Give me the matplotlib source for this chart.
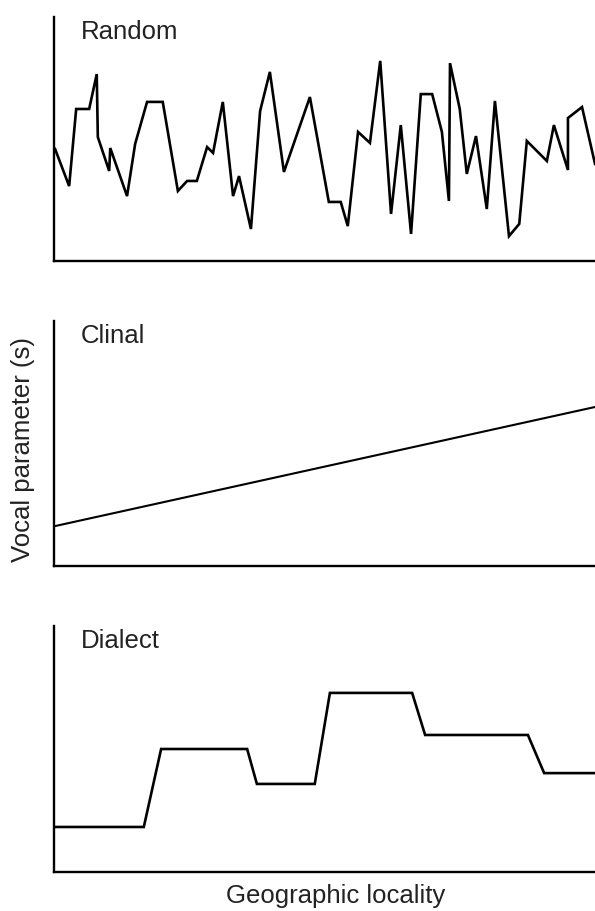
import matplotlib.pyplot as plt

plt.rcParams['font.family'] = ['Liberation Sans', 'DejaVu Sans']

# locality (0-100) and vocal parameter (arbitrary 0-10)
random_x = [0.2, 2.8, 4.1, 6.5, 7.9, 8.1, 10.2, 10.4, 13.5, 15.0, 17.2, 20.1, 22.9,
            24.6, 26.4, 28.3, 29.4, 31.2, 33.1, 34.2, 36.4, 38.1, 39.9, 42.5, 47.3,
            50.8, 53.0, 54.3, 56.2, 58.4, 60.3, 62.3, 64.1, 66.0, 67.8, 69.9, 71.7,
            73.0, 73.2, 75.0, 76.3, 78.0, 80.0, 81.5, 84.1, 86.0, 87.4, 91.1, 92.4,
            95.0, 95.0, 97.6, 100.0]
random_y = [4.59, 3.07, 6.23, 6.23, 7.66, 5.08, 3.69, 4.63, 2.66, 4.80, 6.52, 6.52, 2.87,
            3.28, 3.28, 4.67, 4.43, 6.52, 2.66, 3.48, 1.31, 6.15, 7.75, 3.65, 6.72,
            2.42, 2.42, 1.43, 5.29, 4.84, 8.20, 1.93, 5.57, 1.11, 6.84, 6.84, 5.29,
            2.46, 8.11, 6.23, 3.57, 5.12, 2.13, 6.56, 1.02, 1.52, 4.92, 4.10, 5.57,
            3.73, 5.86, 6.31, 3.98]

clinal_x = [0.2, 100.0]
clinal_y = [1.63, 6.49]

dialect_x = [0.2, 16.6, 19.8, 35.7, 37.5, 48.2, 51.0, 66.2, 68.6, 87.6, 90.6, 100.0]
dialect_y = [1.83, 1.83, 5.0, 5.0, 3.58, 3.58, 7.28, 7.28, 5.57, 5.57, 4.02, 4.02]

panels = [("Random", random_x, random_y, 1.9, (18, 262)),
          ("Clinal", clinal_x, clinal_y, 1.5, (322, 567)),
          ("Dialect", dialect_x, dialect_y, 1.9, (627, 873))]

W, H = 595, 912
fig = plt.figure(figsize=(W / 100, H / 100), dpi=100)

for name, xs, ys, lw, (top, bottom) in panels:
    ax = fig.add_axes([54 / W, 1 - bottom / H, 1 - 54 / W, (bottom - top) / H])
    ax.plot(xs, ys, color='black', lw=lw, solid_joinstyle='miter')
    ax.set_xlim(0, 100)
    ax.set_ylim(0, 10)
    ax.spines['top'].set_visible(False)
    ax.spines['right'].set_visible(False)
    ax.spines['left'].set_linewidth(1.7)
    ax.spines['bottom'].set_linewidth(1.7)
    ax.set_xticks([])
    ax.set_yticks([])
    ax.text(0.05, 0.915, name, transform=ax.transAxes, va='baseline', ha='left',
            fontsize=18.5, color='#222222')

fig.text(23 / W, 1 - 450 / H, "Vocal parameter (s)", rotation=90, va='center', ha='center',
         fontsize=18.5, color='#222222')
fig.text(336 / W, 1 - 896 / H, "Geographic locality", va='center', ha='center',
         fontsize=18.5, color='#222222')

fig.savefig("out.png", dpi=100)
